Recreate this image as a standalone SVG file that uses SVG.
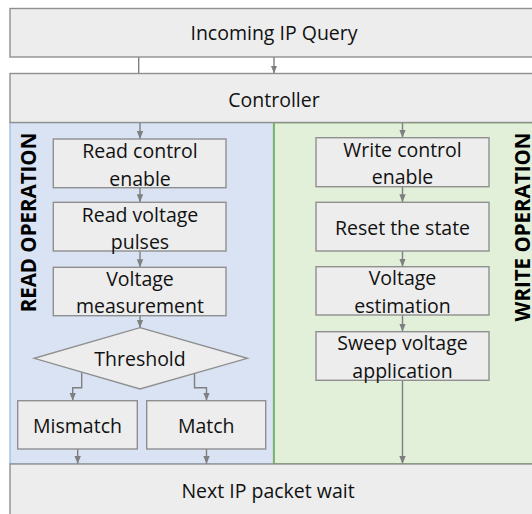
<svg xmlns="http://www.w3.org/2000/svg" width="532" height="514" viewBox="0 0 532 514">
  <defs>
    <marker id="arrow" viewBox="0 0 8 8" refX="8" refY="4" markerWidth="8" markerHeight="8" markerUnits="userSpaceOnUse" orient="auto">
      <path d="M0,0.8 L8,4 L0,7.2 Z" fill="#7f7f7f"/>
    </marker>
    <style>
      .box { fill: #ededed; stroke: #8f8f8f; stroke-width: 1.4; }
      .lbl { font-family: "Open Sans", "Liberation Sans", sans-serif; font-size: 19.5px; fill: #111; text-anchor: middle; }
      .side { font-family: "Open Sans", "Liberation Sans", sans-serif; font-size: 20.5px; font-weight: bold; fill: #000; text-anchor: middle; }
      .wire { fill: none; stroke: #7f7f7f; stroke-width: 1.4; }
      .arr { marker-end: url(#arrow); }
    </style>
  </defs>

  <rect width="532" height="514" fill="#ffffff"/>

  <!-- operation panels -->
  <g id="read-panel">
    <rect x="10" y="122.5" width="263.5" height="341.5" fill="#dae3f3" stroke="#9dc3e6" stroke-width="1.4"/>
    <text class="side" transform="translate(35.5,222.5) rotate(-90)">READ OPERATION</text>
  </g>
  <g id="write-panel">
    <rect x="274" y="122.5" width="270" height="341.5" fill="#e2f0d9" stroke="#70ad47" stroke-width="1.6"/>
    <text class="side" transform="translate(529.5,227) rotate(-90)">WRITE OPERATION</text>
  </g>

  <!-- connectors -->
  <g id="connectors">
    <line class="wire" x1="138.7" y1="57" x2="138.7" y2="73.5"/>
    <line class="wire arr" x1="274" y1="57" x2="274" y2="73.5"/>
    <line class="wire arr" x1="140" y1="122.5" x2="140" y2="139"/>
    <line class="wire arr" x1="140" y1="187.7" x2="140" y2="202.3"/>
    <line class="wire arr" x1="140" y1="251" x2="140" y2="267.3"/>
    <line class="wire arr" x1="140" y1="315.7" x2="140" y2="327.7"/>
    <polyline class="wire arr" points="81.7,372.5 81.7,387.8 72.7,387.8 72.7,400.7"/>
    <polyline class="wire arr" points="194.5,372.5 194.5,387.8 206.5,387.8 206.5,400.7"/>
    <line class="wire arr" x1="77.7" y1="449" x2="77.7" y2="464"/>
    <line class="wire arr" x1="206.5" y1="449" x2="206.5" y2="464"/>
    <line class="wire arr" x1="402.5" y1="122.5" x2="402.5" y2="137.7"/>
    <line class="wire arr" x1="402.5" y1="186.7" x2="402.5" y2="202.3"/>
    <line class="wire arr" x1="402.5" y1="251" x2="402.5" y2="266.7"/>
    <line class="wire arr" x1="402.5" y1="315" x2="402.5" y2="331.7"/>
    <line class="wire arr" x1="402.5" y1="380.3" x2="402.5" y2="464"/>
  </g>

  <!-- shared stages -->
  <g id="incoming">
    <rect class="box" x="10" y="8.5" width="534" height="48.5"/>
    <text class="lbl" x="274" y="40">Incoming IP Query</text>
  </g>
  <g id="controller">
    <rect class="box" x="10" y="73.5" width="534" height="49"/>
    <text class="lbl" x="274" y="106.5">Controller</text>
  </g>
  <g id="next-packet">
    <rect class="box" x="10" y="464" width="534" height="56"/>
    <text class="lbl" x="268" y="498">Next IP packet wait</text>
  </g>

  <!-- read path -->
  <g id="read-enable">
    <rect class="box" x="53.3" y="139" width="172.7" height="48.7"/>
    <text class="lbl" x="140" y="157.7">Read control</text>
    <text class="lbl" x="140" y="186">enable</text>
  </g>
  <g id="read-pulses">
    <rect class="box" x="53.3" y="202.3" width="172.7" height="48.7"/>
    <text class="lbl" x="140" y="221.7">Read voltage</text>
    <text class="lbl" x="140" y="248.5">pulses</text>
  </g>
  <g id="read-measure">
    <rect class="box" x="53.3" y="267.3" width="172.7" height="48.4"/>
    <text class="lbl" x="140" y="286">Voltage</text>
    <text class="lbl" x="140" y="313">measurement</text>
  </g>
  <g id="threshold">
    <polygon class="box" points="140,327.7 247.3,358.3 140,389 34.3,358.3"/>
    <text class="lbl" x="140" y="365.5">Threshold</text>
  </g>
  <g id="mismatch">
    <rect class="box" x="17.7" y="400.7" width="119.6" height="48.3"/>
    <text class="lbl" x="77.5" y="433">Mismatch</text>
  </g>
  <g id="match">
    <rect class="box" x="146.7" y="400.7" width="119" height="48.3"/>
    <text class="lbl" x="206.2" y="433">Match</text>
  </g>

  <!-- write path -->
  <g id="write-enable">
    <rect class="box" x="316" y="137.7" width="173" height="49"/>
    <text class="lbl" x="402.5" y="156.7">Write control</text>
    <text class="lbl" x="402.5" y="184.3">enable</text>
  </g>
  <g id="reset-state">
    <rect class="box" x="316" y="202.3" width="173" height="48.7"/>
    <text class="lbl" x="402.5" y="235">Reset the state</text>
  </g>
  <g id="voltage-estimation">
    <rect class="box" x="316" y="266.7" width="173" height="48.3"/>
    <text class="lbl" x="402.5" y="285.3">Voltage</text>
    <text class="lbl" x="402.5" y="312.7">estimation</text>
  </g>
  <g id="sweep">
    <rect class="box" x="316" y="331.7" width="173" height="48.6"/>
    <text class="lbl" x="402.5" y="350">Sweep voltage</text>
    <text class="lbl" x="402.5" y="378">application</text>
  </g>
</svg>
